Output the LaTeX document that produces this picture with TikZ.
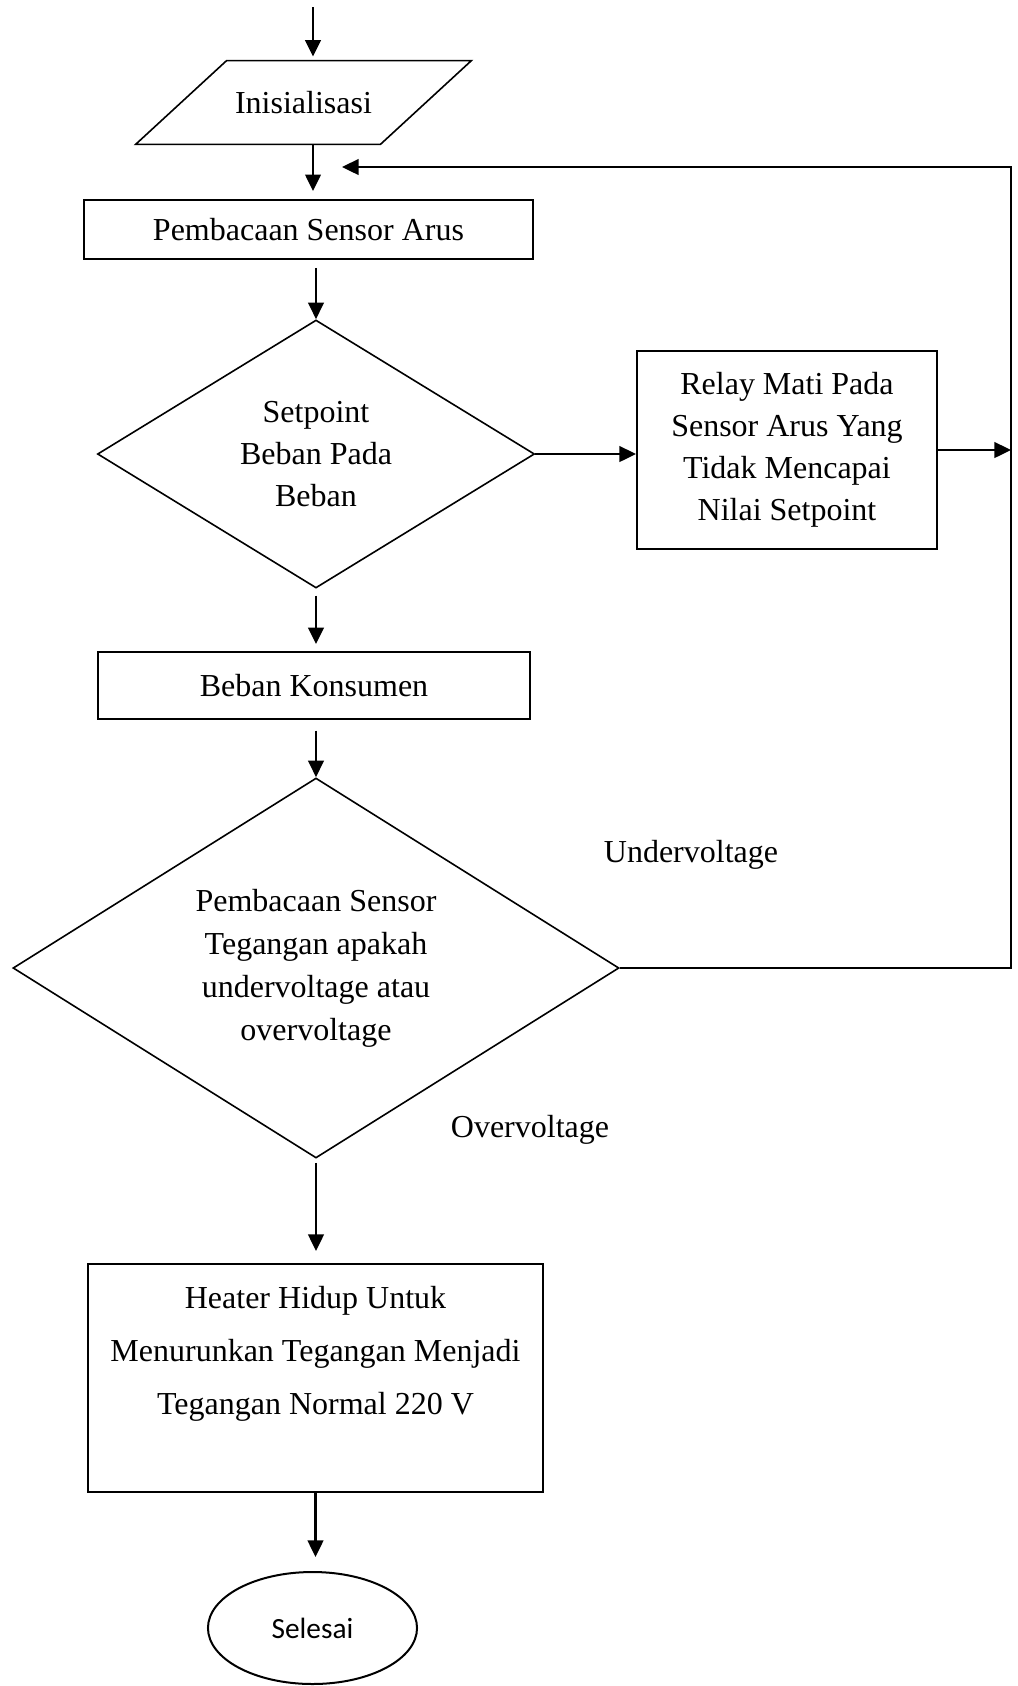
\documentclass[tikz,border=0pt]{standalone}
\usepackage{fontspec}
\setmainfont{Liberation Serif}
\newfontfamily\calibri{Carlito}
\usetikzlibrary{arrows.meta,positioning,shapes.geometric}
\tikzset{
    every node/.style={font=\fontsize{12}{15.75}\selectfont},
    process/.style={draw,line width=0.75pt,rectangle,align=center,inner sep=0pt},
    decision/.style={draw,line width=0.6pt,diamond,align=center,inner sep=0pt},
    io/.style={rectangle,inner sep=0pt},
    terminal/.style={draw,line width=0.75pt,ellipse,inner sep=0pt,font=\calibri\fontsize{11}{13}\selectfont}
}

\begin{document}
\begin{tikzpicture}[x=0.375pt,y=-0.375pt,->,>={Triangle[length=6.2pt,width=5.8pt]},line width=1pt]

    \useasboundingbox (0,0) rectangle (1018,1686);

    \node[io,minimum width=124.9pt,minimum height=30.4pt] (init) at (303.5,102.5) {Inisialisasi};
    \node[process,minimum width=168.4pt,minimum height=22.1pt] (baca) at (308.5,229.5) {Pembacaan Sensor Arus};
    \node[decision,aspect=1.63,minimum width=163.9pt,minimum height=100.5pt] (setpoint) at (316,454) {Setpoint\\Beban Pada\\Beban};
    \node[process,minimum width=112.5pt,minimum height=74.25pt] (relay) at (787,450) {Relay Mati Pada\\Sensor Arus Yang\\Tidak Mencapai\\Nilai Setpoint};
    \node[process,minimum width=162pt,minimum height=25.1pt] (beban) at (314,685.5) {Beban Konsumen};
    \node[decision,aspect=1.6,minimum width=227.25pt,minimum height=142.5pt,font=\fontsize{12}{16.1}\selectfont] (tegangan) at (316,968)
        {Pembacaan Sensor\\Tegangan apakah\\undervoltage atau\\overvoltage};
    \node[process,minimum width=170.6pt,minimum height=85.5pt,font=\fontsize{12}{19.9}\selectfont] (heater) at (315.5,1378)
        {Heater Hidup Untuk\\Menurunkan Tegangan Menjadi\\Tegangan Normal 220 V\\[1pt]\mbox{}};
    \node[terminal,minimum width=78.4pt,minimum height=42pt] (selesai) at (312.5,1628) {Selesai};

    \node (under) at (691,855) {Undervoltage};
    \node (over) at (530,1130) {Overvoltage};

    % parallelogram round the init node
    \draw[-,line width=0.6pt] ([xshift=34.1pt]init.north west) -- (init.north east)
        -- ([xshift=-34.1pt]init.south east) -- (init.south west) -- cycle;

    \coordinate (start) at (313,7);
    \coordinate (looptop) at (1011,167);
    \coordinate (loopin) at (342,167);

    % main column
    \draw[shorten >=1.5pt] (start) -- (start |- init.north);
    \draw[shorten >=3pt] (start |- init.south) -- (start |- baca.north);
    \draw[shorten <=3pt] (baca.south -| setpoint.north) -- (setpoint.north);
    \draw[shorten <=2.6pt,shorten >=2.6pt] (setpoint.south) -- (setpoint.south |- beban.north);
    \draw[shorten <=4pt] (beban.south -| tegangan.north) -- (tegangan.north);
    \draw[shorten <=1.5pt,shorten >=4.5pt] (tegangan.south) -- (tegangan.south |- heater.north);
    \draw[shorten >=5.25pt] (heater.south) -- (heater.south |- selesai.north);

    % relay branch and loop back
    \draw (setpoint.east) -- (setpoint.east -| relay.west);
    \draw (relay.east) -- (relay.east -| looptop);
    \draw (tegangan.east) -| (looptop) -- (loopin);

\end{tikzpicture}
\end{document}
